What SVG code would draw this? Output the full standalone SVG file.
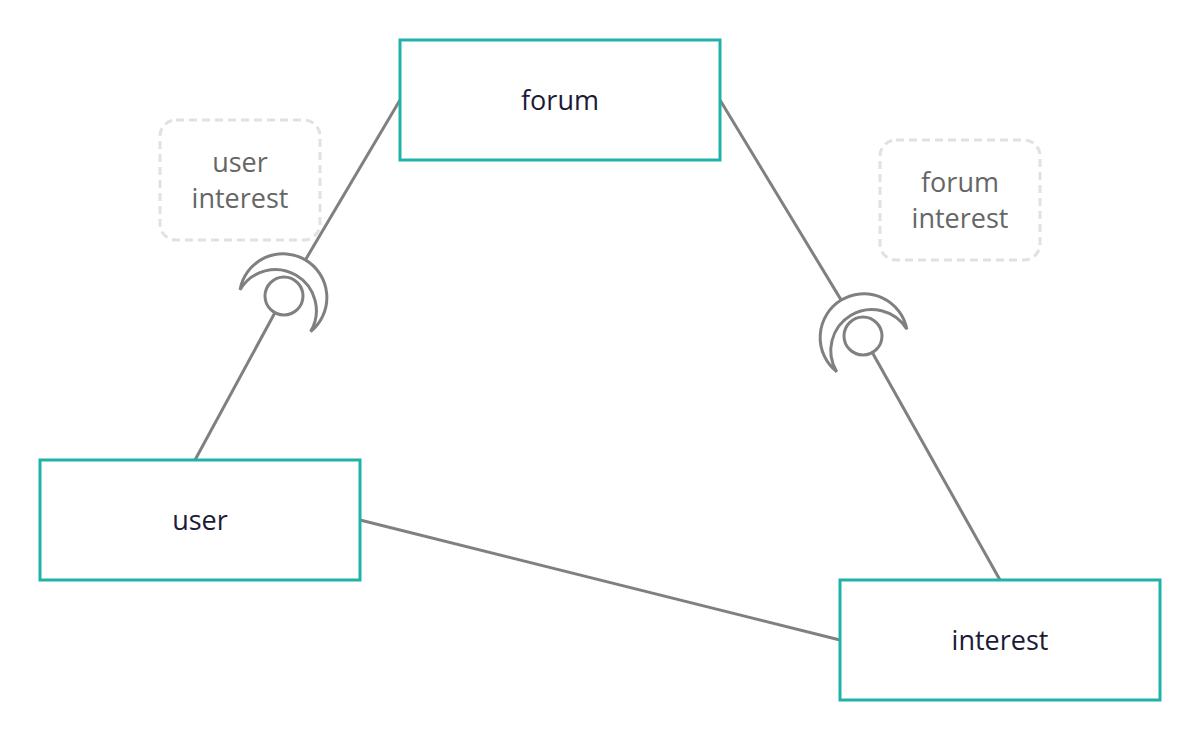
<svg xmlns="http://www.w3.org/2000/svg" width="1200" height="740" viewBox="0 0 1200 740">
<style>
.node rect{fill:#ffffff;stroke:#20b2aa;stroke-width:3}
.node text{font-family:"Open Sans","Liberation Sans",sans-serif;font-size:27px;fill:#1c1b36;text-anchor:middle}
.note rect{fill:none;stroke:#e3e0e2;stroke-width:3;stroke-dasharray:8 5}
.note text{font-family:"Open Sans","Liberation Sans",sans-serif;font-size:27px;fill:#666666;text-anchor:middle}
.conn line{stroke:#808080;stroke-width:3;fill:none}
.ball{fill:#ffffff;stroke:#808080;stroke-width:3}
.socket{fill:#ffffff;stroke:#808080;stroke-width:3;stroke-linejoin:miter}
</style>
<defs>
<path id="sock" d="M -17,-41 A 43.75 43.75 0 1 1 -17,41 A 41 41 0 1 0 -17,-41 Z"/>
</defs>
<rect width="1200" height="740" fill="#ffffff"/>
<g id="connectors" class="conn">
<line x1="400" y1="100" x2="305.4" y2="259.9"/>
<line x1="274.9" y1="312.7" x2="195" y2="460"/>
<line x1="720" y1="100" x2="841.2" y2="300.1"/>
<line x1="872.3" y1="352.6" x2="1000" y2="580"/>
<line x1="360" y1="520" x2="840" y2="640"/>
<use href="#sock" class="socket" transform="translate(284 296) rotate(-59.4)"/>
<circle class="ball" cx="284" cy="296" r="19"/>
<use href="#sock" class="socket" transform="translate(863 336) rotate(-121.2)"/>
<circle class="ball" cx="863" cy="336" r="19"/>
</g>
<g id="note-user-interest" class="note">
<rect x="160" y="120" width="160" height="120" rx="16" ry="16"/>
<text x="240" y="172">user</text>
<text x="240" y="208">interest</text>
</g>
<g id="note-forum-interest" class="note">
<rect x="880" y="140" width="160" height="120" rx="16" ry="16"/>
<text x="960" y="192">forum</text>
<text x="960" y="228">interest</text>
</g>
<g id="forum" class="node">
<rect x="400" y="40" width="320" height="120"/>
<text x="560" y="110">forum</text>
</g>
<g id="user" class="node">
<rect x="40" y="460" width="320" height="120"/>
<text x="200" y="530">user</text>
</g>
<g id="interest" class="node">
<rect x="840" y="580" width="320" height="120"/>
<text x="1000" y="650">interest</text>
</g>
</svg>
